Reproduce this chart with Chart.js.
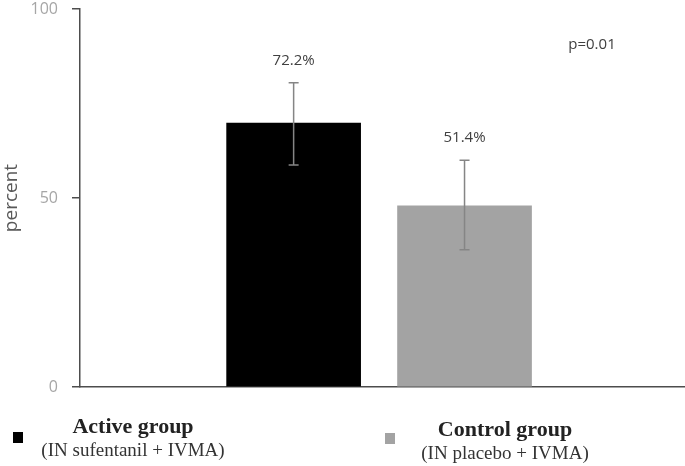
<!DOCTYPE html>
<html>
<head>
<meta charset="utf-8">
<script src="https://cdn.jsdelivr.net/npm/chart.js@4.4.1/dist/chart.umd.min.js"></script>
<style>
    html, body { margin: 0; padding: 0; background: #fff; }
    #contenedor { width: 685px; height: 466px; }
</style>
</head>
<body>
<div id="contenedor"><canvas id="grafico" width="685" height="466"></canvas></div>
<script>
// Datos
const grupos = ['Active group', 'Control group'];
const subtitulos = ['(IN sufentanil + IVMA)', '(IN placebo + IVMA)'];
const valores = [69.8, 47.9];
const etiquetas = ['72.2%', '51.4%'];
const errorBajo = [58.7, 36.3];
const errorAlto = [80.5, 60.0];
const ticksY = [0, 50, 100];
const textoP = 'p=0.01';
const colores = ['#000000', '#a3a3a3'];

// Barras de error + etiquetas de valor + p
const pluginErrores = {
    id: 'errores',
    afterDatasetsDraw(chart) {
        const ctx = chart.ctx;
        const y = chart.scales.y;
        const meta = chart.getDatasetMeta(0);
        ctx.save();
        meta.data.forEach((barra, i) => {
            const x = barra.x;
            const yAlto = y.getPixelForValue(errorAlto[i]);
            const yBajo = y.getPixelForValue(errorBajo[i]);
            ctx.strokeStyle = '#858585';
            ctx.lineWidth = 1.5;
            ctx.beginPath();
            ctx.moveTo(x, yAlto); ctx.lineTo(x, yBajo);
            ctx.moveTo(x - 5, yAlto); ctx.lineTo(x + 5, yAlto);
            ctx.moveTo(x - 5, yBajo); ctx.lineTo(x + 5, yBajo);
            ctx.stroke();

            ctx.fillStyle = '#404040';
            ctx.font = '15px "Open Sans"';
            ctx.textAlign = 'center';
            ctx.textBaseline = 'middle';
            ctx.fillText(etiquetas[i], x, yAlto - 22);
        });
        ctx.fillStyle = '#404040';
        ctx.font = '15px "Open Sans"';
        ctx.textAlign = 'center';
        ctx.textBaseline = 'middle';
        ctx.fillText(textoP, chart.chartArea.right - 93, 45);
        ctx.restore();
    }
};

// Leyenda de dos lineas debajo del eje
const pluginLeyenda = {
    id: 'leyenda',
    afterDraw(chart) {
        const ctx = chart.ctx;
        const items = [
            { cuadro: [13, 432], centro: 133, base: 433 },
            { cuadro: [385, 433], centro: 505, base: 436 }
        ];
        ctx.save();
        ctx.textAlign = 'center';
        ctx.textBaseline = 'alphabetic';
        items.forEach((it, i) => {
            ctx.fillStyle = colores[i];
            ctx.fillRect(it.cuadro[0], it.cuadro[1], 10, 11);
            ctx.fillStyle = '#222222';
            ctx.font = 'bold 22px "Liberation Serif"';
            ctx.fillText(grupos[i], it.centro, it.base);
            ctx.fillStyle = '#333333';
            ctx.font = '19px "Liberation Serif"';
            ctx.fillText(subtitulos[i], it.centro, it.base + 23);
        });
        ctx.restore();
    }
};

const ctx = document.getElementById('grafico').getContext('2d');
new Chart(ctx, {
    type: 'bar',
    data: {
        datasets: [{
            data: valores.map((v, i) => ({ x: i, y: v })),
            backgroundColor: colores,
            borderWidth: 0,
            barThickness: 134
        }]
    },
    options: {
        responsive: false,
        animation: false,
        layout: { padding: { top: 9, bottom: 79, left: 0, right: 0 } },
        plugins: {
            legend: { display: false },
            tooltip: { enabled: false }
        },
        scales: {
            x: {
                type: 'linear',
                min: -1.25,
                max: 2.29,
                bounds: 'data',
                offset: false,
                afterBuildTicks: s => { s.ticks = [{ value: -1.25 }, { value: 2.29 }]; },
                ticks: { display: false },
                grid: { display: false },
                border: { color: '#4d4d4d', width: 1.5 },
                afterFit: s => { s.height = 0; s.paddingLeft = 0; s.paddingRight = 0; }
            },
            y: {
                min: 0,
                max: 100,
                afterBuildTicks: s => { s.ticks = ticksY.map(v => ({ value: v })); },
                ticks: {
                    color: '#a6a6a6',
                    font: { family: 'Open Sans', size: 16 },
                    padding: 14
                },
                grid: {
                    drawOnChartArea: false,
                    tickLength: 8,
                    color: '#4d4d4d',
                    lineWidth: 1.5
                },
                border: { color: '#4d4d4d', width: 1.5 },
                title: {
                    display: true,
                    text: 'percent',
                    color: '#595959',
                    font: { family: 'Open Sans', size: 19 },
                    padding: { top: 0, bottom: 0 }
                },
                afterFit: s => { s.width = 80; s.paddingTop = 0; s.paddingBottom = 0; }
            }
        }
    },
    plugins: [pluginErrores, pluginLeyenda]
});
</script>
</body>
</html>
